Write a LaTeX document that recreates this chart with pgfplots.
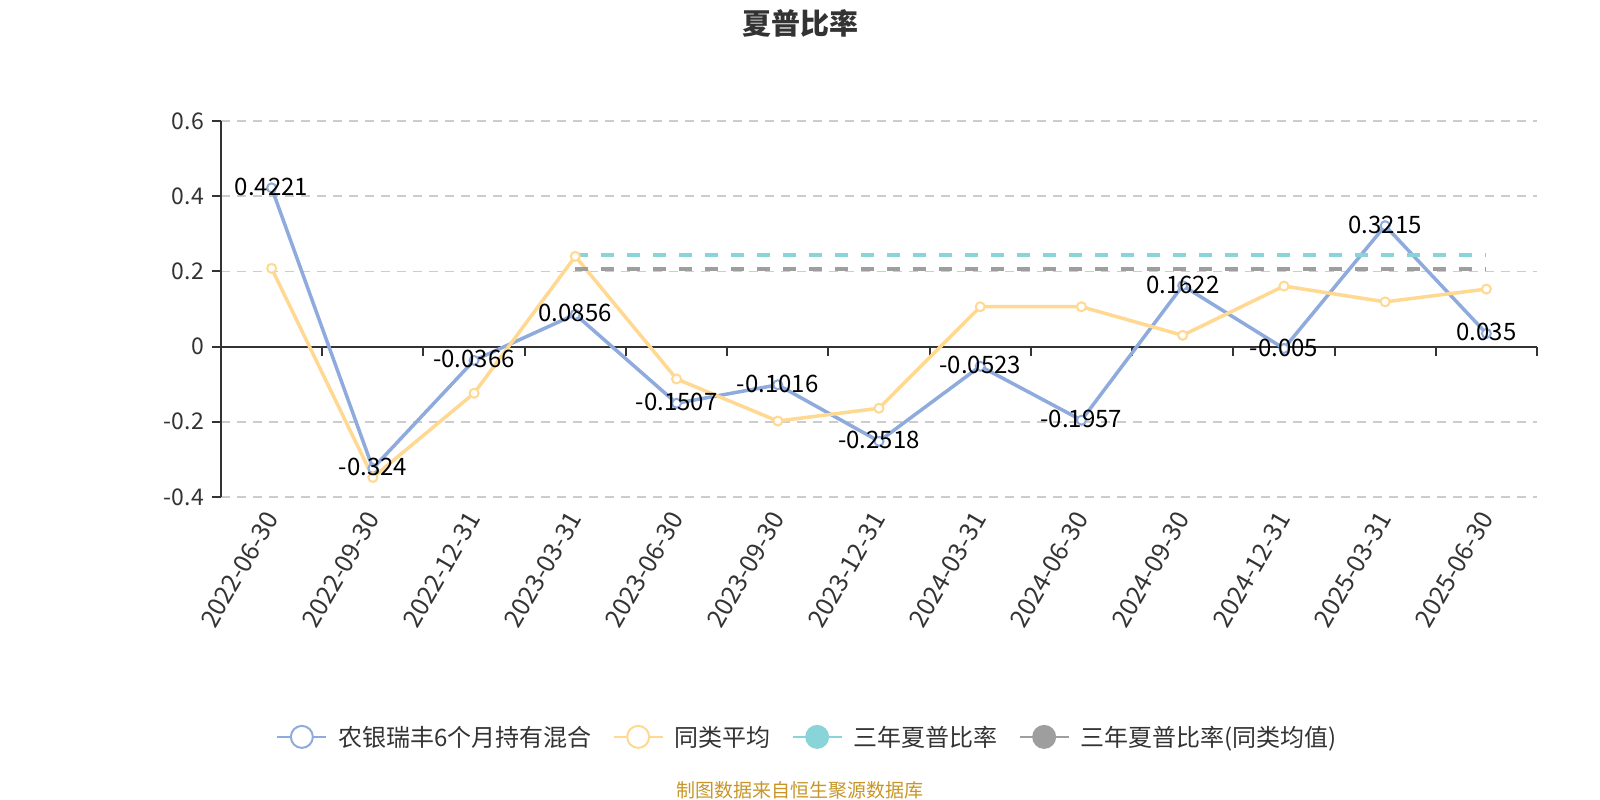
\documentclass[border=0pt]{standalone}
\usepackage{fontspec}
\setmainfont{Noto Sans CJK SC}
\usepackage{pgfplots}
\pgfplotsset{compat=1.18}
\usepackage{pgfplotstable}

\definecolor{fundblue}{RGB}{143,170,220}
\definecolor{avgyellow}{RGB}{255,216,145}
\definecolor{sharpcyan}{RGB}{136,212,216}
\definecolor{sharpgray}{RGB}{158,158,158}
\definecolor{axisgray}{RGB}{51,51,51}
\definecolor{gridgray}{RGB}{204,204,204}
\definecolor{srcgold}{RGB}{200,150,40}

% 农银瑞丰6个月持有混合
\pgfplotstableread{
x y lab
0 0.4221 0.4221
1 -0.324 -0.324
2 -0.0366 -0.0366
3 0.0856 0.0856
4 -0.1507 -0.1507
5 -0.1016 -0.1016
6 -0.2518 -0.2518
7 -0.0523 -0.0523
8 -0.1957 -0.1957
9 0.1622 0.1622
10 -0.005 -0.005
11 0.3215 0.3215
12 0.035 0.035
}\fundtable

% 同类平均
\pgfplotstableread{
x y
0 0.208
1 -0.348
2 -0.124
3 0.240
4 -0.086
5 -0.198
6 -0.164
7 0.106
8 0.106
9 0.030
10 0.161
11 0.119
12 0.153
}\avgtable

\newcommand{\fs}[1]{\fontsize{#1bp}{#1bp}\selectfont}

\begin{document}
\begin{tikzpicture}
\useasboundingbox (0,0) rectangle (1600bp,800bp);
\node[font=\fs{29}\bfseries, text=axisgray] at (800bp,777bp) {夏普比率};
\node[font=\fs{19}, text=srcgold] at (800bp,10bp) {制图数据来自恒生聚源数据库};
\begin{axis}[
    at={(221bp,303bp)}, anchor=south west,
    scale only axis, width=1316bp, height=376bp,
    xmin=-0.5, xmax=12.5, ymin=-0.4, ymax=0.6,
    clip=false,
    axis lines*=left,
    x axis line style={draw=none},
    y axis line style={draw=axisgray, line width=2bp, -},
    xtick={0,...,12},
    xticklabels={2022-06-30,2022-09-30,2022-12-31,2023-03-31,2023-06-30,2023-09-30,2023-12-31,2024-03-31,2024-06-30,2024-09-30,2024-12-31,2025-03-31,2025-06-30},
    xtick style={draw=none},
    ytick={-0.4,-0.2,0,0.2,0.4,0.6},
    yticklabels={-0.4,-0.2,0,0.2,0.4,0.6},
    ytick style={draw=axisgray, line width=2bp},
    tick align=outside, major tick length=9bp,
    ymajorgrids,
    major grid style={draw=gridgray, line width=1.5bp, dash pattern=on 9bp off 7bp},
    yticklabel style={font=\fs{23}, text=axisgray, inner sep=0pt, xshift=-8bp},
    xticklabel style={font=\fs{25}, text=axisgray, rotate=60, anchor=east, inner sep=0pt},
    xticklabel shift=8bp,
    legend columns=4,
    legend style={draw=none, fill=none, inner sep=0pt,
        at={(0.445,-0.638)}, anchor=center,
        font=\fs{24}, text=axisgray,
        nodes={inner sep=0pt},
        /tikz/every odd column/.append style={column sep=11bp},
        /tikz/every even column/.append style={column sep=21bp}},
]
\draw[axisgray, line width=2bp] (axis cs:-0.5,0) -- (axis cs:12.5,0);
\pgfplotsinvokeforeach{0.5,1.5,2.5,3.5,4.5,5.5,6.5,7.5,8.5,9.5,10.5,11.5,12.5}{
    \draw[axisgray, line width=2bp] (axis cs:#1,0) -- (axis cs:#1,-0.024);
}

\addplot[fundblue, line width=3.5bp, mark=*, mark size=4.5bp,
    mark options={fill=white, line width=2bp},
    legend image code/.code={
        \draw[solid, line width=2bp] (0bp,0bp) -- (49bp,0bp);
        \draw[solid, line width=2bp, fill=white] (24.5bp,0bp) circle (11bp);}
] table[x=x, y=y] {\fundtable};
\addlegendentry{农银瑞丰6个月持有混合}

\addplot[avgyellow, line width=3.5bp, mark=*, mark size=4.5bp,
    mark options={fill=white, line width=2bp},
    legend image code/.code={
        \draw[solid, line width=2bp] (0bp,0bp) -- (49bp,0bp);
        \draw[solid, line width=2bp, fill=white] (24.5bp,0bp) circle (11bp);}
] table[x=x, y=y] {\avgtable};
\addlegendentry{同类平均}

\addplot[sharpcyan, line width=3.5bp, dash pattern=on 13bp off 13bp,
    legend image code/.code={
        \draw[solid, line width=2bp] (0bp,0bp) -- (49bp,0bp);
        \path[solid, draw=none, fill=sharpcyan] (24.5bp,0bp) circle (12bp);}
] coordinates {(3,0.243) (12,0.243)};
\addlegendentry{三年夏普比率}

\addplot[sharpgray, line width=3.5bp, dash pattern=on 13bp off 13bp,
    legend image code/.code={
        \draw[solid, line width=2bp] (0bp,0bp) -- (49bp,0bp);
        \path[solid, draw=none, fill=sharpgray] (24.5bp,0bp) circle (12bp);}
] coordinates {(3,0.206) (12,0.206)};
\addlegendentry{三年夏普比率(同类均值)}

% value labels on top
\addplot[draw=none, mark=none, forget plot,
    point meta=explicit symbolic,
    nodes near coords,
    every node near coord/.append style={anchor=center, yshift=1bp,
        font=\fs{24}, text=black, inner sep=0pt}
] table[x=x, y=y, meta=lab] {\fundtable};
\end{axis}
\end{tikzpicture}
\end{document}
